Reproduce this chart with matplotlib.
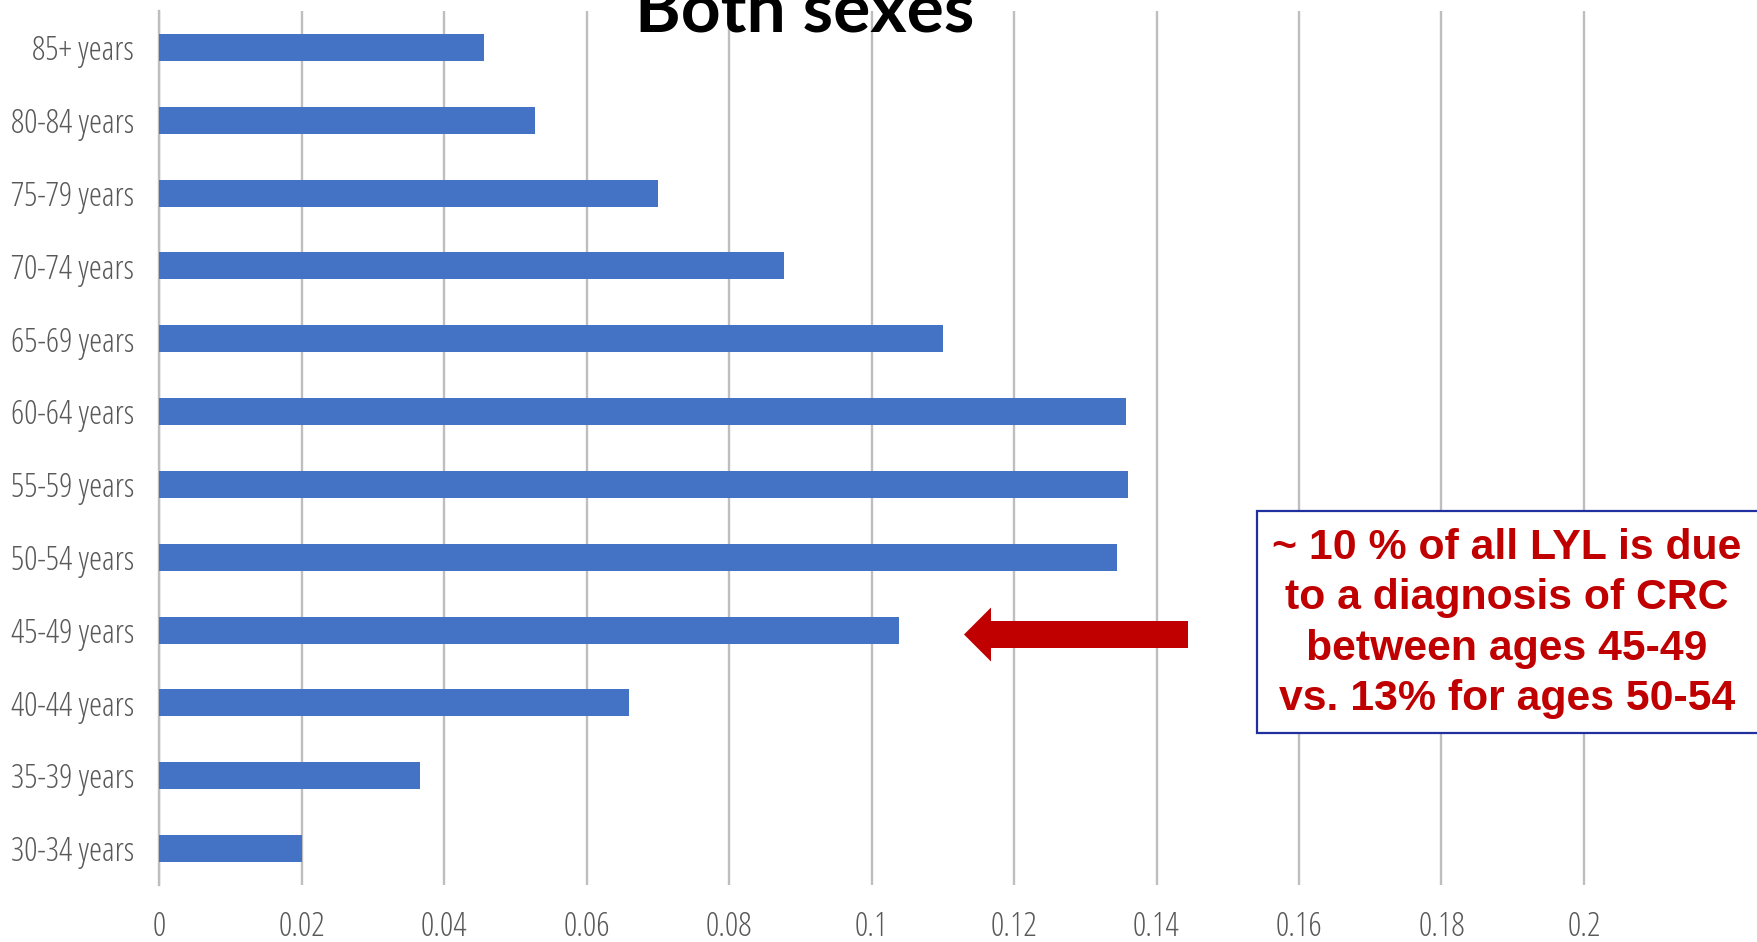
import numpy as np
import matplotlib
matplotlib.use('Agg')
import matplotlib.pyplot as plt
from matplotlib import font_manager
from matplotlib.font_manager import FontProperties
from matplotlib.textpath import TextPath
from matplotlib.patches import Rectangle, Polygon

age_groups = ['30-34 years', '35-39 years', '40-44 years', '45-49 years', '50-54 years',
              '55-59 years', '60-64 years', '65-69 years', '70-74 years', '75-79 years',
              '80-84 years', '85+ years']
lyl_share = [0.0200, 0.0366, 0.0660, 0.1038, 0.1344, 0.1360, 0.1357, 0.1101,
             0.0877, 0.0700, 0.0528, 0.0456]
x_ticks = [0, 0.02, 0.04, 0.06, 0.08, 0.1, 0.12, 0.14, 0.16, 0.18, 0.2]
x_labels = ['0', '0.02', '0.04', '0.06', '0.08', '0.1', '0.12', '0.14', '0.16', '0.18', '0.2']
title = 'Both sexes'
note_lines = ['~ 10 % of all LYL is due', 'to a diagnosis of CRC',
              'between ages 45-49', 'vs. 13% for ages 50-54']


def pick_narrow():
    # look for a narrow light face (the original uses Calibri Light)
    order = ['Liberation Sans Narrow', 'Noto Sans', 'Open Sans', 'Roboto', 'Liberation Sans', 'DejaVu Sans']
    cands = [f for f in font_manager.fontManager.ttflist
             if f.style == 'normal' and f.weight in (300, 350, 400, 'normal', 'light')
             and (f.stretch in ('condensed', 'semi-condensed', 'extra-condensed') or 'Narrow' in f.name)]
    for fam in order:
        for f in cands:
            if f.name == fam:
                return FontProperties(fname=f.fname)
    if cands:
        return FontProperties(fname=cands[0].fname)
    return FontProperties(family=['Liberation Sans', 'DejaVu Sans'])


def fit_size(text, prop, width_px):
    w = TextPath((0, 0), text, size=10, prop=prop).get_extents().width
    return 10 * width_px / (w * 100 / 72)


W, H = 1757, 942
fig = plt.figure(figsize=(W / 100, H / 100), dpi=100)
ax = fig.add_axes([159 / W, 57 / H, 1 - 159 / W, (885 - 11) / H])

grey = '#595959'
lab_fp = pick_narrow()
ylab_fp = lab_fp.copy()
ylab_fp.set_size(min(fit_size('80-84 years', lab_fp, 121), 24))
xlab_fp = lab_fp.copy()
xlab_fp.set_size(min(fit_size('0.02', lab_fp, 46), 24))

ypos = np.arange(len(age_groups))
ax.barh(ypos, lyl_share, height=0.37, color='#4472C4', zorder=3)
ax.set_ylim(-0.5, len(age_groups) - 0.5)
ax.set_xlim(0, 0.2 + (W - 1584) / 142.5 * 0.02)
ax.set_xticks(x_ticks)
ax.set_xticklabels(x_labels, fontproperties=xlab_fp, color=grey)
ax.set_yticks(ypos)
ax.set_yticklabels(age_groups, fontproperties=ylab_fp, color=grey)
ax.tick_params(axis='x', length=0, pad=18)
ax.tick_params(axis='y', length=0, pad=18)
ax.grid(axis='x', color='#BEBEBE', linewidth=1.7, zorder=0)
for s in ['top', 'right', 'bottom']:
    ax.spines[s].set_visible(False)
ax.spines['left'].set_color('#BEBEBE')
ax.spines['left'].set_linewidth(1.7)

# title is cut by the top edge, as in the original slide
fig.text(805 / W, 1 - 31 / H, title, ha='center', va='baseline',
         fontsize=50, fontweight='bold', family=['Lato', 'DejaVu Sans'], color='black')

# annotation box
box = Rectangle((1257 / 100, (H - 733) / 100), (W - 1257 + 20) / 100, (733 - 511) / 100,
                transform=fig.dpi_scale_trans, facecolor='white', edgecolor='#1F2F9F',
                linewidth=1.6, zorder=5)
fig.patches.append(box)
note_fp = FontProperties(family=['Liberation Sans', 'DejaVu Sans'], weight='bold')
note_fp.set_size(min(fit_size(note_lines[0], note_fp, 466), 34))
for i, line in enumerate(note_lines):
    fig.text(1507 / W, 1 - (548 + i * 50.3) / H, line, ha='center', va='center',
             fontproperties=note_fp, color='#C00000', zorder=6)

# arrow pointing at the 45-49 bar
yc = H - 634.5
pts = [(1188, yc + 13.5), (991, yc + 13.5), (991, yc + 27), (964, yc),
       (991, yc - 27), (991, yc - 13.5), (1188, yc - 13.5)]
arrow = Polygon([(px / 100, py / 100) for px, py in pts], closed=True,
                transform=fig.dpi_scale_trans, facecolor='#C00000', edgecolor='none', zorder=5)
fig.patches.append(arrow)

fig.savefig('out.png', dpi=100)
